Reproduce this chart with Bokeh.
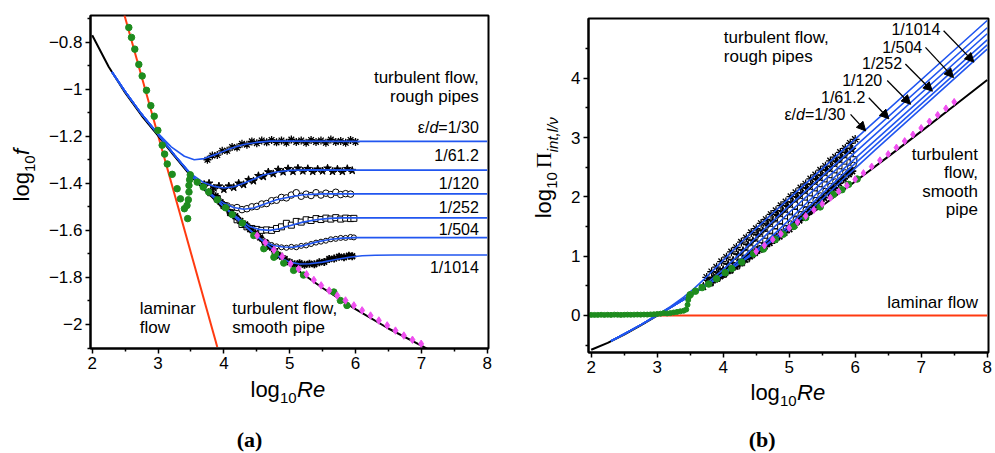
import math
from bokeh.plotting import figure
from bokeh.layouts import row, column
from bokeh.models import Range1d, FixedTicker, CustomJSTickFormatter, Label, Arrow, NormalHead
from bokeh.embed import file_html
from bokeh.resources import INLINE

FONT = "Liberation Sans"
SERIF = "Liberation Serif"

# ---------------- axis ticks ----------------
x_ticks = [2, 3, 4, 5, 6, 7, 8]
x_minor = [2.5, 3.5, 4.5, 5.5, 6.5, 7.5]
fa_ticks = [-2.0, -1.8, -1.6, -1.4, -1.2, -1.0, -0.8]
fa_minor = [-2.1, -1.9, -1.7, -1.5, -1.3, -1.1, -0.9, -0.7]
pb_ticks = [0, 1, 2, 3, 4]
pb_minor = [-0.5, 0.5, 1.5, 2.5, 3.5, 4.5]
roughness = ["1/30", "1/61.2", "1/120", "1/252", "1/504", "1/1014"]

# ---------------- panel (a): log10 f ----------------
a_lam_x = [2.49, 3.90]
a_lam_y = [-0.686, -2.096]

a_smooth_x = [2.0, 2.25, 2.5, 2.75, 3.0, 3.25, 3.5, 3.75, 4.0, 4.5, 5.0, 5.5, 6.0, 6.5, 7.0, 7.2]
a_smooth_y = [-0.771, -0.905, -1.015, -1.112, -1.197, -1.285, -1.37, -1.44, -1.505, -1.63, -1.745, -1.845, -1.935, -2.017, -2.09, -2.12]

a_blue_common_x = [2.3, 2.5, 2.75, 3.0, 3.25, 3.5, 3.75, 4.0, 4.25, 4.5, 4.75]
a_blue_common_y = [-0.927, -1.010, -1.106, -1.192, -1.280, -1.364, -1.434, -1.499, -1.564, -1.624, -1.682]

a_b30_x = [3.0, 3.2, 3.4, 3.55, 3.7, 3.9, 4.1, 4.3, 4.5, 4.7, 5.0, 6.0, 8.0]
a_b30_y = [-1.188, -1.245, -1.285, -1.30, -1.295, -1.275, -1.252, -1.235, -1.226, -1.221, -1.221, -1.222, -1.222]
a_b61_x = [3.5, 3.7, 3.85, 4.0, 4.15, 4.3, 4.45, 4.6, 4.8, 5.0, 5.3, 6.0, 8.0]
a_b61_y = [-1.36, -1.398, -1.413, -1.42, -1.415, -1.40, -1.383, -1.365, -1.352, -1.345, -1.343, -1.344, -1.344]
a_b120_x = [3.85, 4.0, 4.15, 4.3, 4.45, 4.6, 4.8, 5.0, 5.2, 5.5, 6.0, 8.0]
a_b120_y = [-1.455, -1.485, -1.503, -1.51, -1.505, -1.49, -1.47, -1.458, -1.449, -1.445, -1.445, -1.445]
a_b252_x = [4.25, 4.4, 4.55, 4.7, 4.85, 5.0, 5.2, 5.4, 5.6, 5.8, 6.0, 8.0]
a_b252_y = [-1.555, -1.585, -1.597, -1.60, -1.593, -1.58, -1.565, -1.555, -1.549, -1.547, -1.547, -1.547]
a_b504_x = [4.6, 4.75, 4.9, 5.05, 5.2, 5.4, 5.6, 5.8, 6.0, 6.3, 8.0]
a_b504_y = [-1.645, -1.664, -1.671, -1.672, -1.665, -1.65, -1.639, -1.633, -1.631, -1.631, -1.631]
a_b1014_x = [4.85, 5.0, 5.15, 5.3, 5.5, 5.7, 5.9, 6.1, 6.3, 6.6, 7.0, 8.0]
a_b1014_y = [-1.715, -1.735, -1.743, -1.742, -1.735, -1.724, -1.714, -1.708, -1.706, -1.705, -1.705, -1.705]

# measured points (panel a)
a_m30_x = [3.75, 3.825, 3.9, 3.975, 4.05, 4.125, 4.2, 4.275, 4.35, 4.425, 4.5, 4.575, 4.65, 4.725, 4.8, 4.875,
           4.95, 5.025, 5.1, 5.175, 5.25, 5.325, 5.4, 5.475, 5.55, 5.625, 5.7, 5.775, 5.85, 5.925, 6.0]
a_m30_y = [-1.300, -1.282, -1.280, -1.262, -1.262, -1.246, -1.248, -1.232, -1.236, -1.222, -1.230, -1.218, -1.226,
           -1.216, -1.226, -1.218, -1.228, -1.214, -1.224, -1.218, -1.228, -1.216, -1.224, -1.218, -1.228, -1.214,
           -1.224, -1.220, -1.228, -1.216, -1.224]
a_m61_x = [3.7, 3.775, 3.85, 3.925, 4.0, 4.075, 4.15, 4.225, 4.3, 4.375, 4.45, 4.525, 4.6, 4.675, 4.75, 4.825,
           4.9, 4.975, 5.05, 5.125, 5.2, 5.275, 5.35, 5.425, 5.5, 5.575, 5.65, 5.725, 5.8, 5.875, 5.95]
a_m61_y = [-1.405, -1.400, -1.420, -1.412, -1.426, -1.412, -1.418, -1.400, -1.406, -1.385, -1.390, -1.368, -1.372,
           -1.352, -1.360, -1.342, -1.352, -1.338, -1.350, -1.336, -1.348, -1.338, -1.350, -1.340, -1.348, -1.336,
           -1.350, -1.340, -1.350, -1.338, -1.346]
a_m120_x = [3.9, 3.975, 4.05, 4.125, 4.2, 4.275, 4.35, 4.425, 4.5, 4.575, 4.65, 4.725, 4.8, 4.875, 4.95, 5.025,
            5.1, 5.175, 5.25, 5.325, 5.4, 5.475, 5.55, 5.625, 5.7, 5.775, 5.85, 5.925]
a_m120_y = [-1.470, -1.488, -1.496, -1.505, -1.503, -1.512, -1.508, -1.500, -1.498, -1.488, -1.486, -1.474, -1.472,
            -1.460, -1.462, -1.450, -1.440, -1.455, -1.446, -1.452, -1.440, -1.450, -1.442, -1.448, -1.438, -1.448,
            -1.444, -1.446]
a_m252_x = [3.8, 3.9, 4.0, 4.1, 4.2, 4.275, 4.35, 4.425, 4.5, 4.575, 4.65, 4.725, 4.8, 4.875, 4.95, 5.025, 5.1,
            5.175, 5.25, 5.325, 5.4, 5.475, 5.55, 5.625, 5.7, 5.775, 5.85, 5.925, 5.975]
a_m252_y = [-1.440, -1.465, -1.495, -1.525, -1.555, -1.575, -1.585, -1.592, -1.596, -1.600, -1.598, -1.600, -1.592,
            -1.585, -1.570, -1.578, -1.562, -1.565, -1.555, -1.558, -1.550, -1.554, -1.548, -1.552, -1.546, -1.552,
            -1.548, -1.550, -1.549]
a_m504_x = [3.9, 4.0, 4.1, 4.2, 4.3, 4.4, 4.5, 4.575, 4.65, 4.725, 4.8, 4.875, 4.95, 5.025, 5.1, 5.175, 5.25,
            5.325, 5.4, 5.475, 5.55, 5.625, 5.7, 5.775, 5.85, 5.925, 5.975]
a_m504_y = [-1.468, -1.497, -1.522, -1.546, -1.572, -1.596, -1.622, -1.636, -1.650, -1.662, -1.668, -1.672, -1.674,
            -1.670, -1.672, -1.666, -1.664, -1.658, -1.652, -1.648, -1.644, -1.638, -1.636, -1.632, -1.632, -1.628,
            -1.630]
a_m1014_x = [3.8, 3.875, 3.95, 4.025, 4.1, 4.175, 4.25, 4.325, 4.4, 4.475, 4.55, 4.625, 4.7, 4.775, 4.85, 4.925,
             5.0, 5.075, 5.15, 5.225, 5.3, 5.375, 5.45, 5.525, 5.6, 5.675, 5.75, 5.825, 5.9, 5.95]
a_m1014_y = [-1.435, -1.455, -1.480, -1.500, -1.525, -1.540, -1.560, -1.575, -1.595, -1.612, -1.630, -1.652, -1.670,
             -1.690, -1.708, -1.722, -1.735, -1.744, -1.740, -1.746, -1.742, -1.744, -1.736, -1.734, -1.722, -1.720,
             -1.712, -1.714, -1.708, -1.710]

a_green_x = [2.556, 2.597, 2.647, 2.708, 2.759, 2.825, 2.89, 2.942, 2.997, 3.063, 3.10, 3.14, 3.215, 3.29, 3.34,
             3.40, 3.45, 3.44, 3.46, 3.47, 3.47, 3.48, 3.49, 3.595, 3.686, 3.77, 3.9, 4.025, 4.127, 4.28, 4.455,
             4.607, 4.76, 4.785, 4.91, 5.06, 5.21, 5.67, 5.77, 5.87]
a_green_y = [-0.738, -0.780, -0.830, -0.895, -0.944, -1.005, -1.070, -1.115, -1.175, -1.238, -1.276, -1.318, -1.362,
             -1.423, -1.466, -1.508, -1.55, -1.494, -1.47, -1.437, -1.409, -1.385, -1.364, -1.395, -1.416, -1.437,
             -1.47, -1.504, -1.533, -1.569, -1.622, -1.678, -1.714, -1.699, -1.739, -1.77, -1.79, -1.862, -1.898,
             -1.919]

a_pink_x = [4.506, 4.63, 4.76, 4.886, 5.013, 5.135, 5.256, 5.367, 5.478, 5.6, 5.722, 5.848, 5.975, 6.10, 6.228,
            6.354, 6.481, 6.607, 6.734, 6.865, 6.997]
a_pink_y = [-1.622, -1.652, -1.683, -1.711, -1.742, -1.764, -1.787, -1.811, -1.834, -1.856, -1.877, -1.898, -1.919,
            -1.940, -1.962, -1.983, -2.004, -2.026, -2.047, -2.065, -2.082]

# ---------------- panel (b): log10 Pi ----------------
b_lam_x = [2.0, 8.0]
b_lam_y = [0.0, 0.0]
b_smooth_x = [2.0, 2.25, 2.5, 2.75, 3.0, 3.5, 4.0, 4.5, 5.0, 5.5, 6.0, 6.5, 7.0, 7.5, 8.0]
b_smooth_y = [-0.577, -0.461, -0.321, -0.168, -0.003, 0.344, 0.694, 1.064, 1.449, 1.849, 2.259, 2.677, 3.104, 3.534, 3.968]

b_blue_common_x = [2.3, 2.5, 2.75, 3.0, 3.25, 3.5, 3.75, 4.0, 4.25, 4.5, 4.75]
b_blue_common_y = [-0.431, -0.311, -0.158, 0.004, 0.166, 0.332, 0.512, 0.697, 0.882, 1.072, 1.264]
b_b30_x = [3.0, 3.2, 3.4, 3.55, 3.7, 3.9, 4.1, 4.3, 4.5, 4.7, 5.0, 6.0, 8.0]
b_b30_y = [0.009, 0.149, 0.309, 0.444, 0.599, 0.819, 1.042, 1.259, 1.468, 1.673, 1.973, 2.972, 4.972]
b_b61_x = [3.5, 3.7, 4.0, 4.3, 4.6, 5.0, 6.0, 8.0]
b_b61_y = [0.334, 0.496, 0.774, 1.094, 1.429, 1.849, 2.85, 4.85]
b_b120_x = [3.85, 4.0, 4.3, 4.6, 5.0, 5.5, 6.0, 8.0]
b_b120_y = [0.589, 0.709, 0.984, 1.304, 1.736, 2.249, 2.749, 4.749]
b_b252_x = [4.25, 4.55, 4.85, 5.2, 5.6, 6.0, 8.0]
b_b252_y = [0.889, 1.147, 1.451, 1.829, 2.245, 2.647, 4.647]
b_b504_x = [4.6, 4.9, 5.2, 5.6, 6.0, 8.0]
b_b504_y = [1.149, 1.423, 1.729, 2.155, 2.563, 4.563]
b_b1014_x = [4.85, 5.15, 5.5, 5.9, 6.3, 8.0]
b_b1014_y = [1.329, 1.601, 1.959, 2.38, 2.788, 4.489]

b_m30_y = [0.644, 0.737, 0.814, 0.907, 0.982, 1.073, 1.146, 1.237, 1.308, 1.397, 1.464, 1.551, 1.618, 1.703, 1.768,
           1.851, 1.916, 2.005, 2.070, 2.151, 2.216, 2.303, 2.370, 2.451, 2.516, 2.605, 2.670, 2.749, 2.816, 2.903,
           2.970]
b_m61_y = [0.489, 0.569, 0.624, 0.707, 0.768, 0.857, 0.926, 1.019, 1.088, 1.184, 1.254, 1.351, 1.422, 1.517, 1.584,
           1.677, 1.742, 1.831, 1.894, 1.983, 2.046, 2.131, 2.194, 2.279, 2.346, 2.433, 2.494, 2.579, 2.644, 2.731,
           2.798]
b_m120_y = [0.624, 0.681, 0.748, 0.814, 0.891, 0.957, 1.036, 1.119, 1.196, 1.281, 1.358, 1.445, 1.522, 1.609, 1.682,
            1.769, 1.854, 1.914, 1.998, 2.067, 2.154, 2.219, 2.302, 2.371, 2.456, 2.521, 2.600, 2.673]
b_m252_y = [0.554, 0.629, 0.699, 0.769, 0.839, 0.894, 0.959, 1.027, 1.098, 1.169, 1.246, 1.319, 1.402, 1.484, 1.574,
            1.641, 1.732, 1.804, 1.889, 1.961, 2.044, 2.115, 2.196, 2.267, 2.348, 2.417, 2.496, 2.569, 2.620]
b_m504_y = [0.626, 0.697, 0.772, 0.848, 0.922, 0.998, 1.072, 1.133, 1.194, 1.257, 1.326, 1.397, 1.470, 1.549, 1.622,
            1.703, 1.780, 1.861, 1.942, 2.021, 2.100, 2.181, 2.258, 2.337, 2.412, 2.491, 2.539]
b_m1014_y = [0.559, 0.614, 0.664, 0.719, 0.769, 0.829, 0.884, 0.944, 0.999, 1.057, 1.114, 1.167, 1.224, 1.279, 1.336,
             1.397, 1.459, 1.525, 1.604, 1.673, 1.752, 1.825, 1.908, 1.985, 2.072, 2.149, 2.232, 2.305, 2.386, 2.434]

b_green_flat_x = [2.0, 2.05, 2.1, 2.15, 2.2, 2.25, 2.3, 2.35, 2.4, 2.45, 2.5, 2.55, 2.6, 2.65, 2.7, 2.75, 2.8, 2.85,
                  2.9, 2.95, 3.0, 3.05, 3.1, 3.15, 3.2, 3.25, 3.3, 3.35, 3.4, 3.44, 3.46, 3.47, 3.48, 3.49]
b_green_flat_y = [0.01, 0.01, 0.01, 0.012, 0.01, 0.012, 0.01, 0.014, 0.012, 0.01, 0.012, 0.014, 0.012, 0.014, 0.015,
                  0.014, 0.016, 0.015, 0.018, 0.02, 0.025, 0.03, 0.04, 0.035, 0.04, 0.05, 0.06, 0.07, 0.08, 0.10,
                  0.18, 0.26, 0.31, 0.34]
b_green_x = [3.50, 3.58, 3.68, 3.78, 3.90, 4.03, 4.13, 4.28, 4.46, 4.61, 4.79, 4.91, 5.07, 5.25, 5.47, 5.67, 5.80,
             5.90, 6.03]
b_green_y = [0.35, 0.41, 0.47, 0.53, 0.62, 0.72, 0.79, 0.90, 1.04, 1.12, 1.28, 1.37, 1.50, 1.65, 1.83, 2.04, 2.12,
             2.21, 2.30]

b_pink_x = [4.5, 4.625, 4.75, 4.875, 5.0, 5.125, 5.25, 5.375, 5.5, 5.625, 5.75, 5.875, 6.0, 6.125, 6.25, 6.375, 6.5,
            6.625, 6.75, 6.875, 7.0, 7.125, 7.25, 7.375, 7.5]
b_pink_y = [1.08, 1.18, 1.28, 1.375, 1.475, 1.575, 1.675, 1.78, 1.88, 1.985, 2.09, 2.19, 2.295, 2.40, 2.51, 2.615,
            2.72, 2.83, 2.94, 3.05, 3.16, 3.27, 3.38, 3.49, 3.60]

# ---------------- styling ----------------
RED = "#ff3a10"
BLUE = "#2156f0"
GREEN = "#1e8c1e"
PINK = "#f050f0"


def with_prefix(px, py, cx, cy):
    xs = [x for x in px if x < cx[0]] + list(cx)
    ys = [y for x, y in zip(px, py) if x < cx[0]] + list(cy)
    return xs, ys


fmt = CustomJSTickFormatter(code="return (tick < 0 ? '\\u2212' : '') + Math.abs(tick).toString();")


def make_fig(width, height, xr, yr, mbl, mbr, mbt, mbb, yt, ym):
    p = figure(width=width, height=height, x_range=Range1d(*xr), y_range=Range1d(*yr),
               output_backend="svg", toolbar_location=None,
               min_border_left=mbl, min_border_right=mbr, min_border_top=mbt, min_border_bottom=mbb)
    p.grid.visible = False
    p.background_fill_color = "white"
    p.border_fill_color = "white"
    p.outline_line_color = "black"
    p.outline_line_width = 2
    p.outline_line_alpha = 1
    p.xaxis.ticker = FixedTicker(ticks=x_ticks, minor_ticks=x_minor)
    p.yaxis.ticker = FixedTicker(ticks=yt, minor_ticks=ym)
    for ax in (p.xaxis[0], p.yaxis[0]):
        ax.formatter = fmt
        ax.axis_line_width = 2
        ax.axis_line_color = "black"
        ax.major_tick_in = 0
        ax.major_tick_out = 5
        ax.minor_tick_in = 0
        ax.minor_tick_out = 3
        ax.major_tick_line_width = 1.5
        ax.minor_tick_line_width = 1.5
        ax.major_tick_line_color = "black"
        ax.minor_tick_line_color = "black"
        ax.major_label_text_font = FONT
        ax.major_label_text_font_size = "17px"
        ax.major_label_text_color = "black"
        ax.major_label_standoff = 3
    return p


def strip(w, h):
    # plain text strip: its frame is the whole canvas, coordinates in px from top-left
    s = figure(width=w, height=h, x_range=Range1d(0, w), y_range=Range1d(h, 0),
               output_backend="svg", toolbar_location=None, min_border=0,
               x_axis_location=None, y_axis_location=None)
    s.grid.visible = False
    s.outline_line_color = None
    s.background_fill_color = "white"
    s.border_fill_color = "white"
    return s


def add_text(p, x, y, text, size="17px", align="left", baseline="middle", style="normal",
             font=FONT, angle=0.0, xo=0, yo=0):
    p.add_layout(Label(x=x, y=y, text=text, text_font=font, text_font_size=size,
                       text_align=align, text_baseline=baseline, text_font_style=style,
                       angle=angle, x_offset=xo, y_offset=yo, text_color="black"))


def eps_label(p, x, y):
    add_text(p, x, y, "=1/30", size="16px", align="right")
    add_text(p, x, y, "d", size="16px", align="right", style="italic", xo=-40.5)
    add_text(p, x, y, "\u03b5/", size="16px", align="right", xo=-49.5)


def x_label(p, x, y):
    add_text(p, x, y, "log", size="22px")
    add_text(p, x, y, "10", size="15px", xo=29.5, yo=-8.5)
    add_text(p, x, y, "Re", size="22px", style="italic", xo=46.5)


def draw_markers(p, xs_list, ys_list, scale):
    styles = [
        dict(marker="asterisk", size=8 * scale, line_color="black", line_width=1.3),
        dict(marker="star", size=8 * scale, line_color="black", fill_color="black"),
        dict(marker="circle", size=6.5 * scale, line_color="black", fill_color="white", line_width=1),
        dict(marker="square", size=6 * scale, line_color="black", fill_color="white", line_width=1),
        dict(marker="circle", size=5 * scale, line_color="black", fill_color="white", line_width=1),
        dict(marker="asterisk", size=8 * scale, line_color="black", line_width=1.8),
    ]
    for xs, ys, st in zip(xs_list, ys_list, styles):
        p.scatter(xs, ys, **st)


# ================= panel (a) =================
p1 = make_fig(454, 376, (1.974, 8.02), (-2.102, -0.687), 45, 11, 15, 28, fa_ticks, fa_minor)
p1.line(a_lam_x, a_lam_y, line_color=RED, line_width=2)
p1.line(a_smooth_x, a_smooth_y, line_color="black", line_width=2)

a_mx = [a_m30_x, a_m61_x, a_m120_x, a_m252_x, a_m504_x, a_m1014_x]
a_my = [a_m30_y, a_m61_y, a_m120_y, a_m252_y, a_m504_y, a_m1014_y]
draw_markers(p1, a_mx, a_my, 1.0)

for cx, cy in [(a_b30_x, a_b30_y), (a_b61_x, a_b61_y), (a_b120_x, a_b120_y),
               (a_b252_x, a_b252_y), (a_b504_x, a_b504_y), (a_b1014_x, a_b1014_y)]:
    xs, ys = with_prefix(a_blue_common_x, a_blue_common_y, cx, cy)
    p1.line(xs, ys, line_color=BLUE, line_width=1.6)

p1.scatter(a_green_x, a_green_y, marker="circle", size=6.5, fill_color=GREEN, line_color=GREEN)
p1.scatter(a_pink_x, a_pink_y, marker="diamond", size=7.5, fill_color=PINK, line_color=PINK)

RA = 7.873
add_text(p1, RA, -0.951, "turbulent flow,", align="right")
add_text(p1, RA, -1.031, "rough pipes", align="right")
eps_label(p1, RA, -1.161)
for t, yv in zip(roughness[1:], [-1.282, -1.399, -1.501, -1.595, -1.759]):
    add_text(p1, RA, yv, t, size="16px", align="right")
add_text(p1, 2.723, -1.933, "laminar")
add_text(p1, 2.723, -2.011, "flow")
add_text(p1, 4.127, -1.933, "turbulent flow,")
add_text(p1, 4.127, -2.011, "smooth pipe")

# y-axis title strip and x-axis title / caption strip for panel (a)
ys1 = strip(45, 376)
add_text(ys1, 21, 210, "log", size="22px", angle=math.pi / 2)
add_text(ys1, 21, 210, "10", size="15px", angle=math.pi / 2, xo=8.5, yo=29.5)
add_text(ys1, 21, 210, "f", size="22px", style="italic", angle=math.pi / 2, yo=46.5)

xs1 = strip(499, 76)
x_label(xs1, 250, 12.6)
add_text(xs1, 249, 63, "(a)", size="22px", align="center", style="bold", font=SERIF)

# ================= panel (b) =================
p2 = make_fig(432, 379, (1.959, 8.02), (-0.624, 5.006), 26, 6, 18, 27, pb_ticks, pb_minor)
p2.line(b_lam_x, b_lam_y, line_color=RED, line_width=2)
p2.line(b_smooth_x, b_smooth_y, line_color="black", line_width=2)

b_my = [b_m30_y, b_m61_y, b_m120_y, b_m252_y, b_m504_y, b_m1014_y]
draw_markers(p2, a_mx, b_my, 1.1)

for cx, cy in [(b_b30_x, b_b30_y), (b_b61_x, b_b61_y), (b_b120_x, b_b120_y),
               (b_b252_x, b_b252_y), (b_b504_x, b_b504_y), (b_b1014_x, b_b1014_y)]:
    xs, ys = with_prefix(b_blue_common_x, b_blue_common_y, cx, cy)
    p2.line(xs, ys, line_color=BLUE, line_width=1.6)

p2.scatter(b_green_flat_x, b_green_flat_y, marker="circle", size=5, fill_color=GREEN, line_color=GREEN)
p2.scatter(b_green_x, b_green_y, marker="circle", size=6.5, fill_color=GREEN, line_color=GREEN)
p2.scatter(b_pink_x, b_pink_y, marker="diamond", size=7, fill_color=PINK, line_color=PINK)

add_text(p2, 4.01, 4.68, "turbulent flow,")
add_text(p2, 4.01, 4.365, "rough pipes")
RB = 7.86
add_text(p2, RB, 2.71, "turbulent", align="right")
add_text(p2, RB, 2.405, "flow,", align="right")
add_text(p2, RB, 2.09, "smooth", align="right")
add_text(p2, RB, 1.78, "pipe", align="right")
add_text(p2, RB, 0.224, "laminar flow", align="right")

b_lab = [(7.29, 4.82), (7.015, 4.52), (6.71, 4.24), (6.41, 3.96), (6.156, 3.67)]
for t, (lx, ly) in zip(["1/1014", "1/504", "1/252", "1/120", "1/61.2"], b_lab):
    add_text(p2, lx, ly, t, size="16px", align="right")
eps_label(p2, 5.853, 3.39)
arrows = [((7.34, 4.80), (7.80, 4.27)), ((7.065, 4.52), (7.49, 4.01)), ((6.76, 4.24), (7.17, 3.78)),
          ((6.485, 3.96), (6.84, 3.56)), ((6.206, 3.67), (6.51, 3.315)), ((5.93, 3.39), (6.16, 3.11))]
for (xs0, ys0), (xe, ye) in arrows:
    p2.add_layout(Arrow(end=NormalHead(size=9, fill_color="black", line_color="black"),
                        x_start=xs0, y_start=ys0, x_end=xe, y_end=ye,
                        line_color="black", line_width=1.3))

ys2 = strip(63, 379)
add_text(ys2, 44, 226.7, "log", size="22px", angle=math.pi / 2)
add_text(ys2, 44, 226.7, "10", size="15px", angle=math.pi / 2, xo=8.5, yo=29.5)
add_text(ys2, 44, 226.7, "\u03a0", size="22px", angle=math.pi / 2, font=SERIF, yo=50)
add_text(ys2, 44, 226.7, "int,l/\u03bd", size="15px", style="italic", angle=math.pi / 2, xo=8.5, yo=66)

xs2 = strip(495, 73)
x_label(xs2, 251, 12.6)
add_text(xs2, 262.7, 60, "(b)", size="22px", align="center", style="bold", font=SERIF)

left = column(row(ys1, p1), xs1)
right = column(row(ys2, p2), xs2)
layout = row(left, right)
open("out.html", "w").write(file_html(layout, INLINE))
